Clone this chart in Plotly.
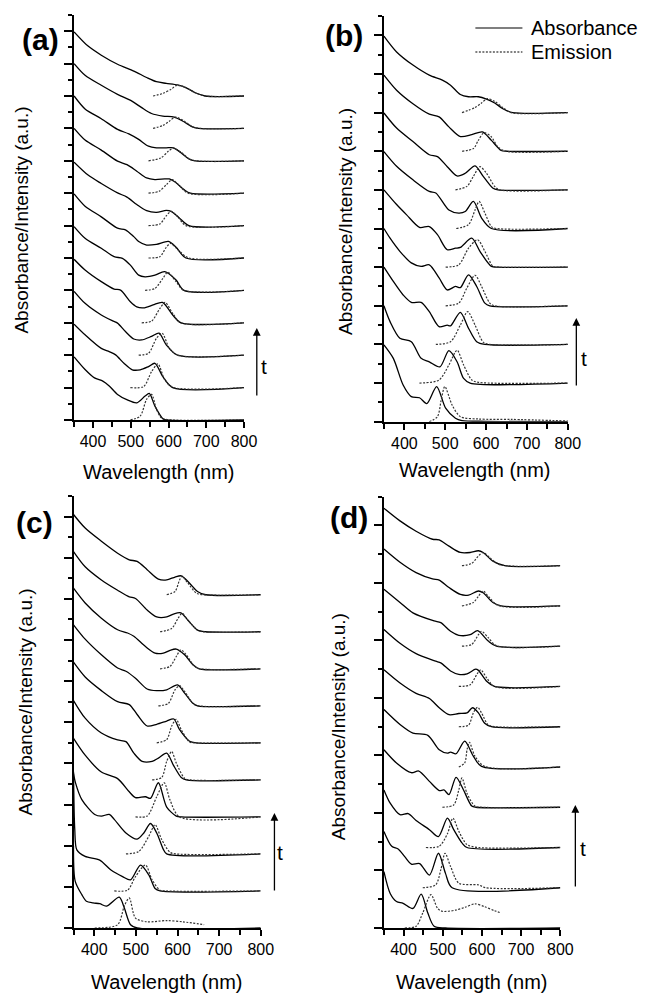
import plotly.graph_objects as go

W, H = 655, 993

# ---------------- data (wavelength nm, value above the curve's own baseline) -------------
# Panel (a)
A_OFFSET = [0, 1, 2, 3, 4, 5, 6, 7, 8, 9, 10]
A_ABS = [
    [(350,1.95),(379,1.56),(404,1.30),(426,1.20),(443,1.05),(465,0.79),(491,0.62),(516,0.53),(538,0.74),(549,0.82),(564,0.43),(585,0.04),(594,0),(800,0)],
    [(350,1.96),(379,1.63),(422,1.21),(443,1.11),(460,1.01),(482,0.75),(504,0.55),(525,0.55),(547,0.65),(564,0.75),(585,0.34),(611,0),(800,0)],
    [(350,1.97),(379,1.60),(422,1.24),(452,1.06),(465,0.99),(486,0.73),(508,0.50),(529,0.47),(555,0.58),(575,0.68),(594,0.32),(624,0),(800,0)],
    [(350,1.96),(379,1.63),(422,1.27),(456,1.04),(473,1.01),(499,0.65),(516,0.49),(534,0.46),(559,0.55),(584,0.63),(611,0.24),(633,0),(800,0)],
    [(350,1.97),(379,1.61),(422,1.30),(456,1.04),(478,0.99),(499,0.78),(521,0.47),(538,0.42),(564,0.47),(590,0.58),(620,0.32),(641,0),(800,0)],
    [(350,1.98),(379,1.60),(422,1.27),(465,0.92),(486,0.87),(508,0.66),(521,0.51),(542,0.40),(568,0.42),(600,0.51),(620,0.33),(646,0),(800,0)],
    [(350,1.96),(387,1.56),(422,1.30),(465,1.01),(490,0.88),(516,0.65),(542,0.46),(568,0.41),(594,0.47),(607,0.44),(628,0.24),(654,0),(800,0)],
    [(350,2.00),(379,1.64),(422,1.33),(465,0.99),(490,0.88),(516,0.68),(542,0.47),(564,0.42),(590,0.44),(602,0.44),(620,0.32),(641,0.11),(658,0),(800,0)],
    [(350,2.00),(379,1.60),(422,1.30),(465,0.97),(495,0.83),(521,0.66),(547,0.45),(568,0.40),(594,0.40),(613,0.40),(633,0.25),(654,0.06),(671,0),(800,0)],
    [(350,2.00),(379,1.64),(422,1.33),(465,1.05),(503,0.84),(529,0.64),(555,0.46),(585,0.38),(615,0.35),(637,0.23),(663,0.05),(680,0),(800,0)],
    [(350,1.98),(387,1.54),(422,1.26),(465,0.98),(508,0.77),(542,0.57),(568,0.44),(594,0.39),(624,0.34),(646,0.26),(671,0.10),(697,0),(800,0)],
]
A_EM = [
    [(499,0),(525,0.12),(542,0.64),(555,0.79),(568,0.33),(581,0.07),(600,0.01),(800,0)],
    [(499,0),(534,0.03),(555,0.49),(572,0.73),(590,0.24),(611,0.01),(800,0)],
    [(521,0),(547,0.06),(568,0.52),(583,0.68),(602,0.22),(624,0),(800,0)],
    [(529,0),(555,0.05),(577,0.44),(591,0.63),(611,0.29),(633,0),(800,0)],
    [(538,0),(564,0.06),(585,0.37),(598,0.56),(620,0.27),(641,0),(800,0)],
    [(547,0),(577,0.04),(594,0.33),(605,0.45),(628,0.22),(654,0),(800,0)],
    [(547,0),(577,0.05),(594,0.30),(607,0.44),(624,0.28),(646,0),(800,0)],
    [(547,0),(575,0.06),(595,0.27),(610,0.42),(628,0.24),(652,0),(800,0)],
    [(547,0),(580,0.09),(600,0.30),(614,0.39),(635,0.25),(660,0.03),(800,0)],
    [(559,0),(585,0.09),(603,0.23),(618,0.35),(641,0.23),(663,0.05),(685,0),(800,0)],
    [(559,0),(585,0.08),(607,0.21),(622,0.33),(646,0.26),(671,0.10),(697,0),(800,0)],
]

# Panel (b)
B_OFFSET = [0, 1, 2, 3, 4, 5, 6, 7, 8]
B_ABS = [
    [(350,1.99),(373,1.64),(397,0.95),(417,0.65),(437,0.62),(455,0.47),(479,0.91),(501,0.35),(525,0.09),(541,0.03),(600,0.01),(800,0)],
    [(350,2.00),(365,1.59),(389,1.16),(417,1.07),(441,0.64),(461,0.55),(487,0.42),(509,0.84),(529,0.55),(545,0.12),(561,0),(800,0)],
    [(350,2.00),(373,1.63),(397,1.28),(417,1.09),(441,1.09),(461,0.85),(485,0.46),(505,0.50),(513,0.48),(537,0.83),(557,0.42),(577,0.07),(597,0),(800,0)],
    [(350,2.00),(365,1.75),(389,1.41),(417,1.11),(441,1.02),(461,1.06),(485,0.72),(505,0.41),(525,0.50),(537,0.47),(557,0.80),(577,0.50),(597,0.07),(609,0),(800,0)],
    [(350,2.00),(381,1.62),(405,1.36),(437,1.03),(461,1.05),(481,0.84),(505,0.45),(525,0.49),(537,0.51),(565,0.75),(585,0.41),(613,0.02),(630,0),(800,0)],
    [(350,1.99),(381,1.61),(421,1.26),(461,0.96),(477,0.92),(509,0.48),(533,0.40),(549,0.44),(569,0.70),(589,0.27),(613,0),(800,0)],
    [(350,1.99),(381,1.60),(421,1.25),(461,0.91),(481,0.86),(505,0.60),(529,0.36),(549,0.43),(573,0.62),(593,0.35),(617,0.04),(629,0),(800,0)],
    [(350,1.97),(381,1.58),(421,1.23),(461,0.96),(485,0.89),(509,0.63),(537,0.38),(565,0.43),(591,0.50),(613,0.28),(637,0.02),(650,0),(800,0)],
    [(350,1.98),(381,1.57),(421,1.23),(461,0.97),(493,0.84),(513,0.71),(537,0.47),(557,0.41),(581,0.41),(601,0.35),(621,0.25),(641,0.10),(665,0),(800,0)],
]
B_EM = [
    [(461,0),(481,0.13),(490,0.55),(499,0.91),(517,0.43),(537,0.13),(581,0.07),(661,0.06),(800,0.02)],
    [(437,0),(485,0.08),(509,0.47),(529,0.85),(545,0.47),(565,0.08),(581,0.02),(800,0)],
    [(477,0),(513,0.07),(537,0.50),(555,0.85),(573,0.50),(593,0.06),(609,0),(800,0)],
    [(501,0),(533,0.07),(553,0.46),(573,0.79),(589,0.50),(609,0.07),(621,0),(800,0)],
    [(501,0),(533,0.06),(557,0.49),(579,0.71),(597,0.41),(617,0.02),(630,0),(800,0)],
    [(527,0),(557,0.10),(573,0.48),(583,0.70),(597,0.40),(613,0.05),(625,0),(800,0)],
    [(525,0),(553,0.09),(569,0.35),(585,0.60),(601,0.43),(621,0.09),(633,0),(800,0)],
    [(541,0),(569,0.07),(581,0.28),(595,0.48),(613,0.37),(629,0.11),(649,0),(800,0)],
    [(541,0),(573,0.13),(589,0.25),(603,0.36),(621,0.29),(641,0.13),(661,0),(800,0)],
]

# Panel (c)
C_OFFSET = [0, 0.9, 1.8, 2.7, 3.6, 4.5, 5.4, 6.3, 7.2, 8.1]
C_ABS = [
    [(350,2.00),(354,1.14),(370,0.81),(381,0.65),(397,0.61),(413,0.59),(429,0.53),(460,0.75),(472,0.49),(487,0.08),(503,0),(800,0)],
    [(350,2.90),(353,1.50),(358,1.00),(378,0.84),(413,0.75),(440,0.51),(468,0.35),(487,0.27),(511,0.63),(531,0.39),(546,0.06),(558,0),(800,0)],
    [(350,1.96),(355,1.72),(370,1.32),(401,0.96),(417,0.92),(436,0.96),(448,0.84),(476,0.51),(503,0.36),(519,0.51),(535,0.74),(550,0.51),(566,0.11),(574,0),(800,0)],
    [(350,1.91),(378,1.50),(417,1.09),(456,0.93),(484,0.61),(499,0.47),(523,0.49),(535,0.45),(554,0.83),(574,0.24),(597,0.02),(610,0),(800,0)],
    [(350,1.93),(378,1.50),(417,1.14),(456,0.97),(476,0.93),(495,0.65),(515,0.45),(539,0.45),(554,0.53),(574,0.65),(590,0.36),(609,0.06),(621,0),(800,0)],
    [(350,1.96),(378,1.60),(417,1.27),(456,1.00),(484,0.93),(503,0.69),(527,0.41),(550,0.45),(574,0.53),(591,0.58),(605,0.32),(629,0.04),(645,0),(800,0)],
    [(350,1.97),(378,1.62),(417,1.24),(456,0.92),(476,0.84),(499,0.67),(527,0.41),(550,0.37),(574,0.39),(600,0.51),(617,0.31),(637,0.06),(648,0),(800,0)],
    [(350,1.96),(378,1.60),(417,1.23),(456,0.95),(480,0.87),(495,0.79),(523,0.54),(546,0.38),(566,0.38),(582,0.45),(597,0.48),(617,0.34),(637,0.10),(652,0),(800,0)],
    [(350,1.95),(378,1.58),(417,1.26),(456,1.01),(484,0.85),(499,0.81),(527,0.53),(550,0.36),(574,0.36),(590,0.43),(608,0.46),(625,0.28),(648,0.04),(668,0),(800,0)],
    [(350,1.95),(378,1.62),(417,1.30),(456,1.01),(484,0.85),(503,0.81),(527,0.61),(554,0.38),(574,0.36),(594,0.43),(609,0.46),(629,0.28),(648,0.08),(668,0),(800,0)],
]
C_EM = [
    [(401,0),(456,0.08),(472,0.53),(484,0.73),(499,0.24),(527,0.15),(574,0.18),(613,0.15),(664,0.08)],
    [(448,0),(480,0.02),(499,0.35),(523,0.63),(539,0.27),(558,0.02),(574,0),(800,0)],
    [(476,0),(507,0.06),(531,0.43),(546,0.71),(562,0.35),(582,0.04),(597,0),(800,0)],
    [(499,0),(527,0.02),(550,0.49),(568,0.83),(582,0.41),(605,0),(800,0)],
    [(539,0),(562,0.06),(574,0.45),(586,0.69),(597,0.41),(617,0.04),(630,0),(800,0)],
    [(550,0),(574,0.08),(586,0.41),(597,0.57),(609,0.32),(629,0.02),(640,0),(800,0)],
    [(554,0),(578,0.06),(594,0.39),(605,0.49),(617,0.35),(637,0.06),(650,0),(800,0)],
    [(558,0),(582,0.06),(597,0.30),(608,0.46),(621,0.34),(641,0.06),(655,0),(800,0)],
    [(558,0),(586,0.08),(601,0.32),(611,0.45),(625,0.28),(648,0.04),(660,0),(800,0)],
    [(574,0),(594,0.08),(605,0.36),(611,0.45),(625,0.28),(645,0.04),(660,0),(800,0)],
]

# Panel (d)
D_OFFSET = [0, 0.7, 1.4, 2.1, 2.8, 3.5, 4.2, 4.9, 5.6, 6.3]
D_ABS = [
    [(350,0.98),(366,0.60),(382,0.46),(399,0.43),(424,0.34),(445,0.59),(462,0.26),(478,0.03),(507,0),(800,0)],
    [(350,0.98),(370,0.72),(387,0.67),(403,0.54),(420,0.41),(441,0.42),(466,0.22),(489,0.60),(507,0.25),(524,0),(800,0)],
    [(350,1.00),(366,0.77),(391,0.57),(412,0.59),(432,0.47),(466,0.31),(489,0.19),(512,0.51),(528,0.31),(549,0.08),(562,0),(800,0)],
    [(350,1.00),(382,0.77),(420,0.60),(439,0.63),(466,0.45),(491,0.29),(503,0.30),(516,0.22),(534,0.52),(553,0.30),(574,0.02),(585,0),(800,0)],
    [(350,1.00),(391,0.74),(424,0.59),(462,0.55),(491,0.30),(512,0.24),(520,0.26),(534,0.23),(556,0.45),(578,0.19),(599,0.01),(800,0)],
    [(350,0.99),(391,0.76),(432,0.58),(466,0.49),(491,0.33),(516,0.21),(541,0.23),(562,0.24),(576,0.33),(591,0.24),(607,0.06),(624,0),(800,0)],
    [(350,0.99),(391,0.75),(432,0.57),(482,0.44),(495,0.41),(520,0.27),(541,0.21),(562,0.22),(584,0.30),(591,0.28),(612,0.09),(632,0),(800,0)],
    [(350,0.99),(391,0.76),(424,0.58),(478,0.44),(495,0.41),(520,0.26),(541,0.19),(570,0.20),(589,0.27),(616,0.09),(637,0),(800,0)],
    [(350,0.99),(391,0.76),(432,0.58),(474,0.47),(491,0.45),(516,0.32),(545,0.20),(566,0.19),(591,0.26),(603,0.23),(628,0.06),(649,0),(800,0)],
    [(350,1.00),(391,0.78),(432,0.60),(474,0.46),(491,0.45),(516,0.34),(545,0.23),(570,0.23),(591,0.26),(603,0.23),(628,0.08),(658,0),(800,0)],
]
D_EM = [
    [(403,0),(432,0.03),(449,0.26),(470,0.58),(487,0.34),(499,0.29),(532,0.31),(557,0.36),(582,0.42),(607,0.37),(632,0.30),(649,0.26)],
    [(449,0),(482,0.05),(495,0.31),(506,0.60),(520,0.37),(541,0.08),(591,0.05),(610,0),(800,0)],
    [(457,0),(491,0.02),(512,0.24),(526,0.51),(541,0.28),(562,0.05),(591,0),(800,0)],
    [(499,0),(528,0.04),(541,0.30),(549,0.51),(562,0.24),(582,0.02),(600,0),(800,0)],
    [(541,0),(556,0.07),(562,0.30),(568,0.43),(582,0.19),(607,0.01),(800,0)],
    [(541,0),(566,0.03),(578,0.24),(589,0.34),(599,0.24),(616,0.03),(633,0),(800,0)],
    [(541,0),(570,0.03),(587,0.21),(597,0.29),(612,0.15),(632,0),(800,0)],
    [(549,0),(574,0.03),(591,0.20),(599,0.26),(616,0.15),(637,0.01),(800,0)],
    [(549,0),(578,0.06),(591,0.17),(603,0.26),(616,0.17),(641,0.01),(800,0)],
    [(549,0),(574,0.04),(591,0.17),(603,0.23),(620,0.14),(645,0.02),(800,0)],
]

X_TICKS = [400, 500, 600, 700, 800]
PANEL_LABELS = ["(a)", "(b)", "(c)", "(d)"]
Y_TOP = [12.5, 10.5, 10.5, 7.5]

# ---------------- layout geometry (pixels) ----------------
panels = [
    dict(abs=A_ABS, em=A_EM, off=A_OFFSET, px=(75.6, 249.0), py=(15.0, 420.0),
         lab=(41, 39), xt=(162, 472), yt=(22, 220), arrow=(262, 328, 397), t=(269, 366)),
    dict(abs=B_ABS, em=B_EM, off=B_OFFSET, px=(391.7, 579.3), py=(16.0, 421.7),
         lab=(351, 35), xt=(485, 470), yt=(352, 222), arrow=(588, 318, 387), t=(596, 358)),
    dict(abs=C_ABS, em=C_EM, off=C_OFFSET, px=(75.0, 266.0), py=(496.0, 928.0),
         lab=(35, 522), xt=(170, 982), yt=(25, 702), arrow=(280, 813, 892), t=(286, 852)),
    dict(abs=D_ABS, em=D_EM, off=D_OFFSET, px=(391.7, 571.7), py=(496.7, 928.0),
         lab=(356, 517), xt=(482, 982), yt=(345, 727), arrow=(587, 805, 888), t=(595, 848)),
]

FONT = "Arial, Liberation Sans, Helvetica, sans-serif"
fig = go.Figure()
annotations = []
shapes = []

for i, p in enumerate(panels):
    sfx = "" if i == 0 else str(i + 1)
    xa, ya = "x" + sfx, "y" + sfx
    for curve, off in zip(p["abs"], p["off"]):
        fig.add_trace(go.Scatter(
            x=[c[0] for c in curve], y=[off + c[1] for c in curve],
            mode="lines", line=dict(color="black", width=1.3, shape="spline", smoothing=0.8),
            xaxis=xa, yaxis=ya, showlegend=False, hoverinfo="skip"))
    for curve, off in zip(p["em"], p["off"]):
        fig.add_trace(go.Scatter(
            x=[c[0] for c in curve], y=[off + c[1] for c in curve],
            mode="lines", line=dict(color="#333333", width=1.2, dash="2px,1.5px",
                                    shape="spline", smoothing=0.8),
            xaxis=xa, yaxis=ya, showlegend=False, hoverinfo="skip"))

    x0, x1 = p["px"]
    y0, y1 = p["py"]
    xkey = "xaxis" + sfx
    ykey = "yaxis" + sfx
    fig.update_layout(**{
        xkey: dict(domain=[x0 / W, x1 / W], anchor=ya, range=[350, 800],
                   tickvals=X_TICKS, ticks="outside", ticklen=6, tickwidth=1.5,
                   tickcolor="black", showline=True, linecolor="black", linewidth=2,
                   showgrid=False, zeroline=False,
                   tickfont=dict(size=16, color="black", family=FONT),
                   minor=dict(dtick=50, tick0=0, ticks="outside", ticklen=5,
                              tickwidth=1.5, tickcolor="black", showgrid=False)),
        ykey: dict(domain=[1 - y1 / H, 1 - y0 / H], anchor=xa, range=[0, Y_TOP[i]],
                   dtick=1, tick0=0, ticks="outside", ticklen=8, tickwidth=1.5,
                   tickcolor="black", showline=True, linecolor="black", linewidth=2,
                   showgrid=False, zeroline=False, showticklabels=False,
                   minor=dict(dtick=0.5, tick0=0, ticks="outside", ticklen=4,
                              tickwidth=1.5, tickcolor="black", showgrid=False)),
    })

    lx, ly = p["lab"]
    annotations.append(dict(text="<b>" + PANEL_LABELS[i] + "</b>", x=lx / W, y=1 - ly / H,
                            xref="paper", yref="paper", showarrow=False,
                            xanchor="center", yanchor="middle",
                            font=dict(size=30, color="black", family=FONT)))
    tx, ty = p["xt"]
    annotations.append(dict(text="Wavelength (nm)", x=tx / W, y=1 - ty / H,
                            xref="paper", yref="paper", showarrow=False,
                            xanchor="center", yanchor="middle",
                            font=dict(size=20, color="black", family=FONT)))
    vx, vy = p["yt"]
    annotations.append(dict(text="Absorbance/Intensity (a.u.)", x=vx / W, y=1 - vy / H,
                            xref="paper", yref="paper", showarrow=False, textangle=-90,
                            xanchor="center", yanchor="middle",
                            font=dict(size=19, color="black", family=FONT)))
    ax_, ah, at = p["arrow"]
    annotations.append(dict(text="", x=ax_ / W, y=1 - ah / H, xref="paper", yref="paper",
                            showarrow=True, ax=0, ay=at - ah, axref="pixel", ayref="pixel",
                            arrowhead=2, arrowsize=1.2, arrowwidth=1.3, arrowcolor="black"))
    ttx, tty = p["t"]
    annotations.append(dict(text="t", x=ttx / W, y=1 - tty / H, xref="paper", yref="paper",
                            showarrow=False, xanchor="center", yanchor="middle",
                            font=dict(size=21, color="black", family=FONT)))

# legend (panel b)
LEGEND_ITEMS = [("Absorbance", "solid", 28), ("Emission", "2px,1.5px", 52)]
for name, dash, yy in LEGEND_ITEMS:
    shapes.append(dict(type="line", xref="paper", yref="paper",
                       x0=485 / W, x1=533 / W, y0=1 - yy / H, y1=1 - yy / H,
                       line=dict(color="black", width=1.2, dash=dash)))
    annotations.append(dict(text=name, x=540 / W, y=1 - yy / H, xref="paper", yref="paper",
                            showarrow=False, xanchor="left", yanchor="middle",
                            font=dict(size=20, color="black", family=FONT)))

fig.update_layout(width=W, height=H, autosize=False, margin=dict(l=0, r=0, t=0, b=0),
                  paper_bgcolor="white", plot_bgcolor="white",
                  annotations=annotations, shapes=shapes, showlegend=False)

POST = ("document.documentElement.style.margin='0';document.body.style.margin='0';"
        "document.documentElement.style.overflow='hidden';document.body.style.overflow='hidden';"
        "Plotly.relayout(document.getElementById('{plot_id}'), {width: 655, height: 993});")

fig.write_html("out.html", config={"displayModeBar": False, "responsive": False},
               post_script=POST)
